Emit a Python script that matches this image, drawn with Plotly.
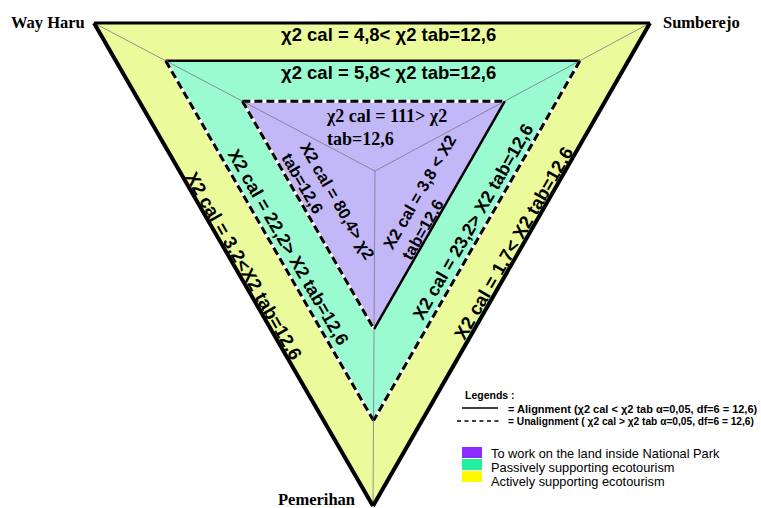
import plotly.graph_objects as go

# ---------------- data ----------------
regions = ["Way Haru", "Sumberejo", "Pemerihan"]
levels = ["Actively supporting ecotourism",
          "Passively supporting ecotourism",
          "To work on the land inside National Park"]
chi_tab = 12.6
chi_top = [4.8, 5.8, 111]      # Way Haru - Sumberejo edge (outer, middle, inner)
chi_left = [3.2, 22.2, 80.4]   # Way Haru - Pemerihan edge
chi_right = [1.7, 23.2, 3.8]   # Sumberejo - Pemerihan edge
level_fill = ["#EBFB9C", "#9AFBD0", "#C3B8F7"]
legend_swatch = ["#FFF800", "#20F0A0", "#8A2BFF"]

# ---------------- geometry (diagram layout) ----------------
W, H = 761, 508
center = (375, 171)
outer = [(94, 23), (650, 23), (373, 506)]
scales = [1.0, 0.745, 0.472]


def tri(s):
    return [(center[0] + (vx - center[0]) * s, center[1] + (vy - center[1]) * s) for vx, vy in outer]


def fmt(v):
    return (("%g" % v).replace(".", ","))


fig = go.Figure()

# fills
for i, s in enumerate(scales):
    pts = tri(s)
    fig.add_trace(go.Scatter(x=[p[0] for p in pts] + [pts[0][0]], y=[p[1] for p in pts] + [pts[0][1]],
                             fill="toself", fillcolor=level_fill[i], mode="lines",
                             line=dict(width=0), hoverinfo="skip", showlegend=False))

# thin spokes
for p in outer:
    fig.add_trace(go.Scatter(x=[p[0], center[0]], y=[p[1], center[1]], mode="lines",
                             line=dict(color="#77778c", width=0.8), hoverinfo="skip", showlegend=False))

# edges
widths_solid = [[3, 4, 4], [2.5, 3, 3], [3, 3, 2.5]]
for i, s in enumerate(scales):
    pts = tri(s)
    edges = [(pts[0], pts[1], chi_top[i]), (pts[0], pts[2], chi_left[i]), (pts[1], pts[2], chi_right[i])]
    for k, (a, b, v) in enumerate(edges):
        w = widths_solid[i][k]
        if v < chi_tab:
            fig.add_trace(go.Scatter(x=[a[0], b[0]], y=[a[1], b[1]], mode="lines",
                                     line=dict(color="black", width=w), hoverinfo="skip", showlegend=False))
        else:
            fig.add_trace(go.Scatter(x=[a[0], b[0]], y=[a[1], b[1]], mode="lines",
                                     line=dict(color="white", width=w), hoverinfo="skip", showlegend=False))
            fig.add_trace(go.Scatter(x=[a[0], b[0]], y=[a[1], b[1]], mode="lines",
                                     line=dict(color="black", width=w, dash="8px,4px"),
                                     hoverinfo="skip", showlegend=False))

SANS = "Liberation Sans"
SERIF = "Liberation Serif"


def cmp(v):
    return "<" if v < chi_tab else ">"


ann = []
# top edge labels
ann.append(dict(x=388, y=34, text=f"<b>χ2 cal = {fmt(chi_top[0])}{cmp(chi_top[0])} χ2 tab={fmt(chi_tab)}</b>",
                font=dict(family=SANS, size=18.5, color="black")))
ann.append(dict(x=388, y=72, text=f"<b>χ2 cal = {fmt(chi_top[1])}{cmp(chi_top[1])} χ2 tab={fmt(chi_tab)}</b>",
                font=dict(family=SANS, size=18.5, color="black")))
ann.append(dict(x=324, y=127, xanchor="left", align="left",
                text=f"<b>χ2 cal = {fmt(chi_top[2])}{cmp(chi_top[2])} χ2<br>tab={fmt(chi_tab)}</b>",
                font=dict(family=SERIF, size=18, color="black")))
# left edge labels
ann.append(dict(x=244, y=265, textangle=60,
                text=f"<b>X2 cal = {fmt(chi_left[0])}{cmp(chi_left[0])}X2 tab={fmt(chi_tab)}</b>",
                font=dict(family=SANS, size=18.5, color="black")))
ann.append(dict(x=288, y=247, textangle=60,
                text=f"<b>X2 cal = {fmt(chi_left[1])}{cmp(chi_left[1])} X2 tab={fmt(chi_tab)}</b>",
                font=dict(family=SANS, size=18, color="black")))
ann.append(dict(x=329, y=206, textangle=60, align="left",
                text=f"<b>X2 cal = {fmt(chi_left[2])}{cmp(chi_left[2])} χ2<br>tab={fmt(chi_tab)}</b>",
                font=dict(family=SANS, size=16.5, color="black")))
# right edge labels
ann.append(dict(x=513, y=243, textangle=-60,
                text=f"<b>X2 cal = {fmt(chi_right[0])}{cmp(chi_right[0])} X2 tab={fmt(chi_tab)}</b>",
                font=dict(family=SANS, size=18.5, color="black")))
ann.append(dict(x=473, y=222, textangle=-60,
                text=f"<b>X2 cal = {fmt(chi_right[1])}{cmp(chi_right[1])} X2 tab={fmt(chi_tab)}</b>",
                font=dict(family=SANS, size=18, color="black")))
ann.append(dict(x=428, y=197, textangle=-60, align="left",
                text=f"<b>X2 cal = {fmt(chi_right[2])} {cmp(chi_right[2])} X2<br>tab={fmt(chi_tab)}</b>",
                font=dict(family=SANS, size=16.5, color="black")))
# vertex labels
ann.append(dict(x=87, y=22, xanchor="right", text=f"<b>{regions[0]}</b>",
                font=dict(family=SERIF, size=16.5, color="black")))
ann.append(dict(x=661, y=22, xanchor="left", text=f"<b>{regions[1]}</b>",
                font=dict(family=SERIF, size=16.5, color="black")))
ann.append(dict(x=316, y=499, text=f"<b>{regions[2]}</b>",
                font=dict(family=SERIF, size=16.5, color="black")))

# legend block
ann.append(dict(x=463, y=395, xanchor="left", text="<b>Legends :</b>",
                font=dict(family=SANS, size=10.5, color="black")))
ann.append(dict(x=506, y=409, xanchor="left",
                text=f"<b>= Alignment (χ2 cal < χ2 tab α=0,05, df=6 = {fmt(chi_tab)})</b>",
                font=dict(family=SANS, size=11, color="black")))
ann.append(dict(x=506, y=421, xanchor="left",
                text=f"<b>= Unalignment ( χ2 cal > χ2 tab α=0,05, df=6 = {fmt(chi_tab)})</b>",
                font=dict(family=SANS, size=10.2, color="black")))
fig.add_trace(go.Scatter(x=[462, 498], y=[408, 408], mode="lines", line=dict(color="black", width=1.5),
                         hoverinfo="skip", showlegend=False))
fig.add_trace(go.Scatter(x=[457, 500], y=[421, 421], mode="lines",
                         line=dict(color="black", width=1.5, dash="4px,3.5px"),
                         hoverinfo="skip", showlegend=False))

shapes = []
sw_y = [471, 459, 447]
text_y = [481, 467, 453]
for i in range(3):
    shapes.append(dict(type="rect", xref="x", yref="y", x0=462, x1=482, y0=sw_y[i], y1=sw_y[i] + 11,
                       fillcolor=legend_swatch[i], line=dict(width=0)))
    ann.append(dict(x=489, y=text_y[i], xanchor="left", text=levels[i],
                    font=dict(family=SANS, size=12.8, color="black")))

for a in ann:
    a.setdefault("showarrow", False)
    a.setdefault("xref", "x")
    a.setdefault("yref", "y")

fig.update_layout(width=W, height=H, margin=dict(l=0, r=0, t=0, b=0),
                  paper_bgcolor="white", plot_bgcolor="white",
                  xaxis=dict(range=[0, W], visible=False, fixedrange=True),
                  yaxis=dict(range=[H, 0], visible=False, fixedrange=True),
                  annotations=ann, shapes=shapes, showlegend=False)
fig.write_html("out.html", config={"displayModeBar": False},
               post_script="document.body.style.margin='0';document.body.style.overflow='hidden';")
